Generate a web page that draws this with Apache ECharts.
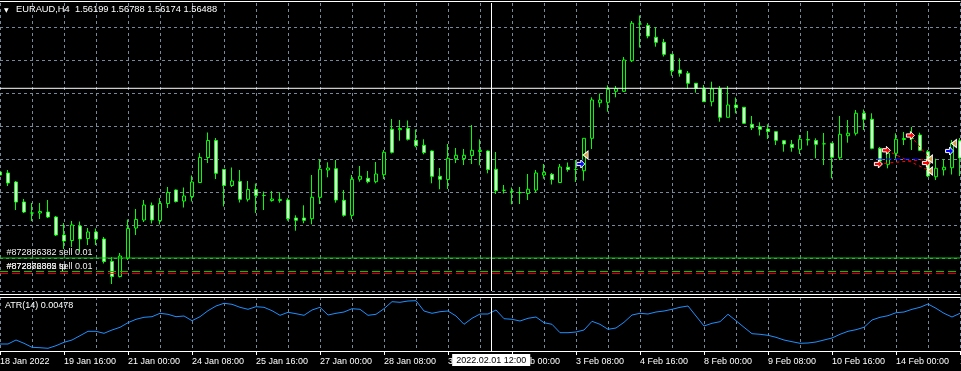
<!DOCTYPE html>
<html><head><meta charset="utf-8">
<script src="https://cdn.jsdelivr.net/npm/echarts@6/dist/echarts.min.js"></script>
<style>html,body{margin:0;padding:0;background:#000;}#c{width:961px;height:371px;}</style>
</head><body><div id="c"></div>
<script>
// ---- categories (H4 bars) ----
const barTimes = [
'18 Jan 08:00','18 Jan 12:00','18 Jan 16:00','18 Jan 20:00',
'19 Jan 00:00','19 Jan 04:00','19 Jan 08:00','19 Jan 12:00','19 Jan 16:00','19 Jan 20:00',
'20 Jan 00:00','20 Jan 04:00','20 Jan 08:00','20 Jan 12:00','20 Jan 16:00','20 Jan 20:00',
'21 Jan 00:00','21 Jan 04:00','21 Jan 08:00','21 Jan 12:00','21 Jan 16:00','21 Jan 20:00',
'24 Jan 00:00','24 Jan 04:00','24 Jan 08:00','24 Jan 12:00','24 Jan 16:00','24 Jan 20:00',
'25 Jan 00:00','25 Jan 04:00','25 Jan 08:00','25 Jan 12:00','25 Jan 16:00','25 Jan 20:00',
'26 Jan 00:00','26 Jan 04:00','26 Jan 08:00','26 Jan 12:00','26 Jan 16:00','26 Jan 20:00',
'27 Jan 00:00','27 Jan 04:00','27 Jan 08:00','27 Jan 12:00','27 Jan 16:00','27 Jan 20:00',
'28 Jan 00:00','28 Jan 04:00','28 Jan 08:00','28 Jan 12:00','28 Jan 16:00','28 Jan 20:00',
'31 Jan 00:00','31 Jan 04:00','31 Jan 08:00','31 Jan 12:00','31 Jan 16:00','31 Jan 20:00',
'1 Feb 00:00','1 Feb 04:00','1 Feb 08:00','1 Feb 12:00','1 Feb 16:00','1 Feb 20:00',
'2 Feb 00:00','2 Feb 04:00','2 Feb 08:00','2 Feb 12:00','2 Feb 16:00','2 Feb 20:00',
'3 Feb 00:00','3 Feb 04:00','3 Feb 08:00','3 Feb 12:00','3 Feb 16:00','3 Feb 20:00',
'4 Feb 00:00','4 Feb 04:00','4 Feb 08:00','4 Feb 12:00','4 Feb 16:00','4 Feb 20:00',
'7 Feb 00:00','7 Feb 04:00','7 Feb 08:00','7 Feb 12:00','7 Feb 16:00','7 Feb 20:00',
'8 Feb 00:00','8 Feb 04:00','8 Feb 08:00','8 Feb 12:00','8 Feb 16:00','8 Feb 20:00',
'9 Feb 00:00','9 Feb 04:00','9 Feb 08:00','9 Feb 12:00','9 Feb 16:00','9 Feb 20:00',
'10 Feb 00:00','10 Feb 04:00','10 Feb 08:00','10 Feb 12:00','10 Feb 16:00','10 Feb 20:00',
'11 Feb 00:00','11 Feb 04:00','11 Feb 08:00','11 Feb 12:00','11 Feb 16:00','11 Feb 20:00',
'14 Feb 00:00','14 Feb 04:00','14 Feb 08:00','14 Feb 12:00','14 Feb 16:00','14 Feb 20:00',
'15 Feb 00:00','15 Feb 04:00','15 Feb 08:00'];
const tickLabels = ['18 Jan 2022','19 Jan 16:00','21 Jan 00:00','24 Jan 08:00','25 Jan 16:00','27 Jan 00:00',
'28 Jan 08:00','31 Jan 16:00','2 Feb 00:00','3 Feb 08:00','4 Feb 16:00','8 Feb 00:00','9 Feb 08:00',
'10 Feb 16:00','14 Feb 00:00','15 Feb 08:00'];

// ---- EURAUD H4 OHLC ----
const opens = [1.5959,1.5958,1.5949,1.5929,1.5918,1.5918,1.5919,1.5914,1.5896,1.58905,
1.5905,1.58925,1.5899,1.5892,1.58695,1.58545,1.5873,1.5903,1.5911,1.59255,
1.59105,1.59275,1.5941,1.5930,1.59345,1.59485,1.59735,1.59905,1.59615,1.59455,
1.59495,1.59317,1.59415,1.59355,1.59305,1.59305,1.5931,1.5913,1.5913,1.59123,
1.59337,1.5961,1.59623,1.59307,1.59157,1.59517,1.59527,1.59493,1.59563,1.60017,
1.60013,1.60025,1.59907,1.59857,1.5980,1.59547,1.59515,1.59723,1.59725,1.59755,
1.59795,1.5980,1.59617,1.59407,1.59393,1.59385,1.59375,1.5941,1.5956,1.59567,
1.59485,1.59637,1.59615,1.59603,1.59927,1.60283,1.60287,1.60397,1.60397,1.60703,
1.6107,1.61055,1.60937,1.60887,1.60767,1.6061,1.60577,1.60477,1.6042,1.60293,
1.6042,1.60137,1.6026,1.60237,1.60067,1.60042,1.6002,1.59993,1.59903,1.59867,
1.59817,1.5991,1.59905,1.59872,1.59877,1.59733,1.59953,1.59977,1.60177,1.60117,
1.59827,1.59667,1.59777,1.59915,1.59925,1.5996,1.59793,1.59543,1.59612,1.59633,1.59903];
const highs = [1.5962,1.5961,1.5950,1.5932,1.5928,1.5928,1.5931,1.5915,1.5908,1.5910,
1.59095,1.5903,1.59025,1.5894,1.5874,1.5878,1.59115,1.5922,1.5931,1.59285,
1.5933,1.5944,1.59415,1.59435,1.59555,1.5978,1.59985,1.5993,1.5962,1.59635,
1.5961,1.5950,1.59475,1.59395,1.5940,1.59387,1.59327,1.59157,1.59257,1.5956,
1.59717,1.59687,1.5971,1.5941,1.5956,1.5965,1.5960,1.5969,1.5981,1.6012,
1.6011,1.60105,1.60015,1.59917,1.59805,1.5963,1.5987,1.5983,1.5982,1.6006,
1.59917,1.59805,1.5979,1.5946,1.59435,1.5944,1.5957,1.5961,1.5967,1.5958,
1.5967,1.59685,1.5971,1.5993,1.60337,1.60375,1.60457,1.6045,1.6074,1.6110,
1.61155,1.6108,1.61037,1.6092,1.6077,1.60727,1.6060,1.6048,1.6046,1.60493,
1.6045,1.6045,1.60335,1.6024,1.6015,1.60087,1.60067,1.59995,1.5991,1.5991,
1.5996,1.6000,1.59927,1.5998,1.5988,1.6015,1.6011,1.6021,1.60215,1.60177,
1.5984,1.5981,1.59977,1.5999,1.6004,1.59983,1.5981,1.59723,1.59717,1.5991,1.5993];
const lows = [1.5945,1.5945,1.5921,1.5918,1.5910,1.5912,1.5913,1.5895,1.5882,1.5884,
1.58795,1.5886,1.5886,1.58675,1.5847,1.58535,1.5871,1.5896,1.5909,1.59075,
1.59065,1.5923,1.59285,1.59235,1.59295,1.5948,1.5968,1.5952,1.59245,1.5944,
1.59285,1.59295,1.5918,1.5921,1.59293,1.59283,1.59103,1.59003,1.59077,1.59067,
1.5927,1.59537,1.59283,1.59143,1.59117,1.59493,1.59477,1.59477,1.5952,1.59775,
1.59903,1.59905,1.59837,1.59767,1.59477,1.59417,1.5942,1.5968,1.5966,1.5967,
1.59657,1.59577,1.5937,1.59375,1.59267,1.5927,1.5931,1.59385,1.59523,1.59465,
1.5948,1.59593,1.5949,1.59503,1.5982,1.60237,1.60193,1.60337,1.6039,1.6069,
1.60835,1.60927,1.60843,1.60745,1.60553,1.60543,1.6042,1.60383,1.6029,1.60247,
1.60093,1.60135,1.60177,1.60073,1.6001,1.59955,1.5992,1.5986,1.59793,1.59793,
1.5977,1.59855,1.59727,1.5966,1.59527,1.5971,1.59883,1.59955,1.6001,1.59817,
1.59643,1.59627,1.5972,1.5986,1.5981,1.5980,1.5954,1.5951,1.59555,1.59565,1.5955];
const closes = [1.5956,1.5948,1.5929,1.5919,1.5918,1.59195,1.5914,1.5896,1.5890,1.5906,
1.5892,1.5899,1.5892,1.58695,1.58545,1.5875,1.59025,1.59115,1.5926,1.5911,
1.59275,1.59385,1.59295,1.5935,1.5949,1.59735,1.59905,1.59577,1.59455,1.5950,
1.59317,1.59415,1.59355,1.59355,1.5932,1.59315,1.59123,1.59107,1.59107,1.59337,
1.59617,1.5963,1.5931,1.59157,1.59517,1.59547,1.59493,1.5957,1.59787,1.59787,
1.60025,1.59917,1.59853,1.59785,1.59547,1.59517,1.59727,1.59757,1.59757,1.59807,
1.59807,1.59615,1.59403,1.59407,1.59395,1.59383,1.59417,1.5958,1.59587,1.59515,
1.5964,1.59615,1.59615,1.59927,1.6031,1.6031,1.60417,1.60423,1.6071,1.61077,
1.6107,1.6095,1.60887,1.60767,1.60603,1.60577,1.60477,1.60425,1.60293,1.6042,
1.60137,1.6026,1.60233,1.60077,1.60033,1.60017,1.59995,1.59907,1.5987,1.59835,
1.59917,1.59915,1.59867,1.59872,1.59737,1.59967,1.59977,1.60177,1.60117,1.59827,
1.5970,1.59777,1.59917,1.59925,1.59927,1.59807,1.5955,1.59627,1.59637,1.59877,1.5973];

// ---- ATR(14) ----
const atr14 = [0.0033,0.0033,0.0037,0.00337,0.00297,0.00293,0.00287,0.00313,0.00347,0.0037,
0.00413,0.00457,0.00457,0.00437,0.0047,0.00497,0.00543,0.00577,0.00597,0.00603,
0.00637,0.00627,0.00603,0.0061,0.00563,0.00603,0.00663,0.0071,0.00737,0.00727,
0.00697,0.00677,0.00703,0.00697,0.00663,0.00617,0.00647,0.00633,0.00617,0.0067,
0.00697,0.0062,0.00637,0.0065,0.00683,0.00677,0.00617,0.00627,0.00683,0.00753,
0.00747,0.0076,0.00763,0.0066,0.00637,0.00653,0.0066,0.0061,0.00527,0.00587,
0.0063,0.0063,0.0067,0.00583,0.00577,0.0056,0.00587,0.006,0.00543,0.00527,
0.00443,0.00443,0.0045,0.0047,0.00557,0.00527,0.00477,0.0049,0.00547,0.0062,
0.00637,0.0063,0.0065,0.0066,0.00677,0.00697,0.0071,0.0061,0.0051,0.00537,
0.00553,0.00627,0.00563,0.00497,0.00433,0.00427,0.00417,0.00397,0.0037,0.00353,
0.00337,0.0034,0.0035,0.0037,0.0039,0.00427,0.00457,0.00473,0.00497,0.0057,
0.00597,0.00613,0.00643,0.0065,0.00677,0.00697,0.0073,0.00687,0.00637,0.006,0.00637];

// ---- order lines / trades ----
const orderLevels = [1.5873, 1.58595, 1.58577];
const orderTexts = ['#872886382 sell 0.01', '#872872805 sell 0.01', '#872886382 tp'];
const crossTime = '2022.02.01 12:00';
const crossBar = 61.4;
const crossPrice = 1.60427;
const sellArrows = [[109.8,1.5967],[110.8,1.59807],[113.8,1.59955],[115.8,1.5968]];
const buyArrows = [[72.6,1.5967],[118.7,1.598]];
const closeMarks = [[73.2,1.5976],[116.25,1.5972],[116.25,1.5960],[119.25,1.59875]];
const sellPaths = [[[109.8,1.5967],[116.25,1.5972]],[[110.8,1.59807],[116.25,1.5960]],[[113.8,1.59955],[116.25,1.5972]]];
const buyPaths = [[[72.6,1.5967],[73.2,1.5976]],[[118.7,1.598],[119.25,1.59875]],[[109.6,1.5972],[114.9,1.5972]]];

const header = 'EURAUD,H4  1.56199 1.56788 1.56174 1.56488';
const atrText = 'ATR(14) 0.00478';

const FONT = 'Liberation Sans';
const GRID = '#778899';
const ohlc = opens.map((o, i) => [o, closes[i], lows[i], highs[i]]);
const arrowPath = 'path://M0,3L5,3L5,0L10,5L5,10L5,7L0,7Z';
const triPath = 'path://M10,0L10,10L0,5Z';

const chart = echarts.init(document.getElementById('c'));
const dash = {color: GRID, type: [3, 3], width: 1};

function hLine(level, lineStyle, text, dy, z) {
  return {
    type: 'line', xAxisIndex: 4, yAxisIndex: 0, data: [[0, level], [120, level]], clip: false,
    symbol: 'rect', symbolSize: 1, showSymbol: true, silent: true, z: z || 3,
    lineStyle: lineStyle, itemStyle: {color: 'rgba(0,0,0,0)', borderWidth: 0},
    label: {show: !!text, position: 'right', distance: 6, offset: [0, dy || 0],
      color: '#f0f0f0', fontSize: 9, fontFamily: FONT,
      formatter: p => (p.dataIndex === 0 ? text : '')}
  };
}

const series = [
  {
    type: 'candlestick', xAxisIndex: 0, yAxisIndex: 0, data: ohlc, barWidth: 4, z: 2,
    itemStyle: {color: '#000', color0: '#fff', borderColor: '#00ff00', borderColor0: '#00ff00', borderWidth: 1}
  },
  hLine(orderLevels[0], {color: '#00c800', type: 'solid', width: 1}, orderTexts[0], -5.5),
  hLine(orderLevels[1], {color: '#00c800', type: [8, 4], width: 1}, orderTexts[1], -5),
  hLine(orderLevels[2], {color: '#ff0000', type: [8, 4], width: 1}, orderTexts[2], -7),
  hLine(crossPrice, {color: '#ffffff', type: 'solid', width: 1}, '', 0, 4),
  {type: 'line', xAxisIndex: 4, yAxisIndex: 0, data: [], z: 4,
   markLine: {silent: true, symbol: 'none', animation: false,
     data: [{xAxis: crossBar}], lineStyle: {color: '#fff', type: 'solid', width: 1}, label: {show: false}}},
  ...sellPaths.map(p => ({type: 'line', xAxisIndex: 4, yAxisIndex: 0, data: p, symbol: 'none',
    lineStyle: {color: '#ff0000', type: [3, 3], width: 1}, silent: true, z: 4})),
  ...buyPaths.map(p => ({type: 'line', xAxisIndex: 4, yAxisIndex: 0, data: p, symbol: 'none',
    lineStyle: {color: '#0000ff', type: [6, 3], width: 1}, silent: true, z: 4})),
  {type: 'scatter', xAxisIndex: 4, yAxisIndex: 0, data: sellArrows, symbol: arrowPath, symbolSize: [8, 8],
   itemStyle: {color: '#ff0000', borderColor: '#fff', borderWidth: 1, opacity: 1}, z: 5},
  {type: 'scatter', xAxisIndex: 4, yAxisIndex: 0, data: buyArrows, symbol: arrowPath, symbolSize: [8, 8],
   itemStyle: {color: '#0000ff', borderColor: '#fff', borderWidth: 1, opacity: 1}, z: 5},
  {type: 'scatter', xAxisIndex: 4, yAxisIndex: 0, data: closeMarks, symbol: triPath, symbolSize: [5, 8],
   itemStyle: {color: '#d2a046', borderColor: '#fff', borderWidth: 1, opacity: 1}, z: 5},
  {type: 'line', xAxisIndex: 2, yAxisIndex: 1, data: atr14, symbol: 'none',
   lineStyle: {color: '#1e90ff', width: 1}, silent: true},
  {type: 'line', xAxisIndex: 5, yAxisIndex: 1, data: [], z: 10, markLine: {silent: true, symbol: 'none', animation: false,
    data: [{xAxis: crossBar}], lineStyle: {color: '#fff', type: 'solid', width: 1},
    label: {show: true, position: 'start', formatter: crossTime, backgroundColor: '#fff', color: '#000',
      fontSize: 9, fontFamily: FONT, padding: [2, 4, 1, 4], distance: 3}}}
];

chart.setOption({
  backgroundColor: '#000',
  animation: false,
  textStyle: {fontFamily: FONT},
  title: [
    {text: '▼', left: 4, top: 7, padding: 0, textStyle: {color: '#fff', fontSize: 6, fontFamily: 'DejaVu Sans', fontWeight: 'normal'}},
    {text: header, left: 16, top: 5, padding: 0, textStyle: {color: '#fff', fontSize: 9.3, fontFamily: FONT, fontWeight: 'normal'}},
    {text: atrText, left: 5, top: 301, padding: 0, textStyle: {color: '#fff', fontSize: 9, fontFamily: FONT, fontWeight: 'normal'}}
  ],
  grid: [
    {left: 0, right: 1, top: 3, bottom: 80, outerBoundsMode: 'none', containLabel: false},
    {left: 0, right: 1, top: 297, bottom: 20, outerBoundsMode: 'none', containLabel: false}
  ],
  xAxis: [
    {type: 'category', gridIndex: 0, data: barTimes, boundaryGap: false, position: 'bottom', offset: 3,
     axisLine: {show: true, lineStyle: {color: '#fff', width: 1}}, axisTick: {show: false}, axisLabel: {show: false},
     splitLine: {show: true, interval: 3, lineStyle: dash}},
    {type: 'category', gridIndex: 0, data: barTimes, boundaryGap: false, position: 'top', offset: 2,
     axisLine: {show: true, lineStyle: {color: '#fff', width: 1}}, axisTick: {show: false}, axisLabel: {show: false}, splitLine: {show: false}},
    {type: 'category', gridIndex: 1, data: barTimes, boundaryGap: false, position: 'bottom',
     axisLine: {show: true, lineStyle: {color: '#fff', width: 1}},
     axisTick: {show: true, interval: 7, length: 4, lineStyle: {color: '#fff'}},
     axisLabel: {show: true, interval: 7, align: 'left', margin: 6, color: '#fff', fontSize: 9, fontFamily: FONT,
       hideOverlap: false, formatter: (v, i) => tickLabels[Math.round(i / 8)] || ''},
     splitLine: {show: true, interval: 3, lineStyle: dash}},
    {type: 'category', gridIndex: 1, data: barTimes, boundaryGap: false, position: 'top',
     axisLine: {show: true, lineStyle: {color: '#fff', width: 1}}, axisTick: {show: false}, axisLabel: {show: false}, splitLine: {show: false}},
    {type: 'value', gridIndex: 0, min: 0, max: 120, show: false},
    {type: 'value', gridIndex: 1, min: 0, max: 120, show: false}
  ],
  yAxis: [
    {type: 'value', gridIndex: 0, min: 1.584, max: 1.6128, interval: 0.0033, show: true,
     axisLine: {show: false}, axisTick: {show: false}, axisLabel: {show: false},
     splitLine: {show: true, showMaxLine: false, lineStyle: dash}},
    {type: 'value', gridIndex: 1, min: 0.0026, max: 0.0080, show: true,
     axisLine: {show: false}, axisTick: {show: false}, axisLabel: {show: false}, splitLine: {show: false}}
  ],
  series: series
});
</script></body></html>
